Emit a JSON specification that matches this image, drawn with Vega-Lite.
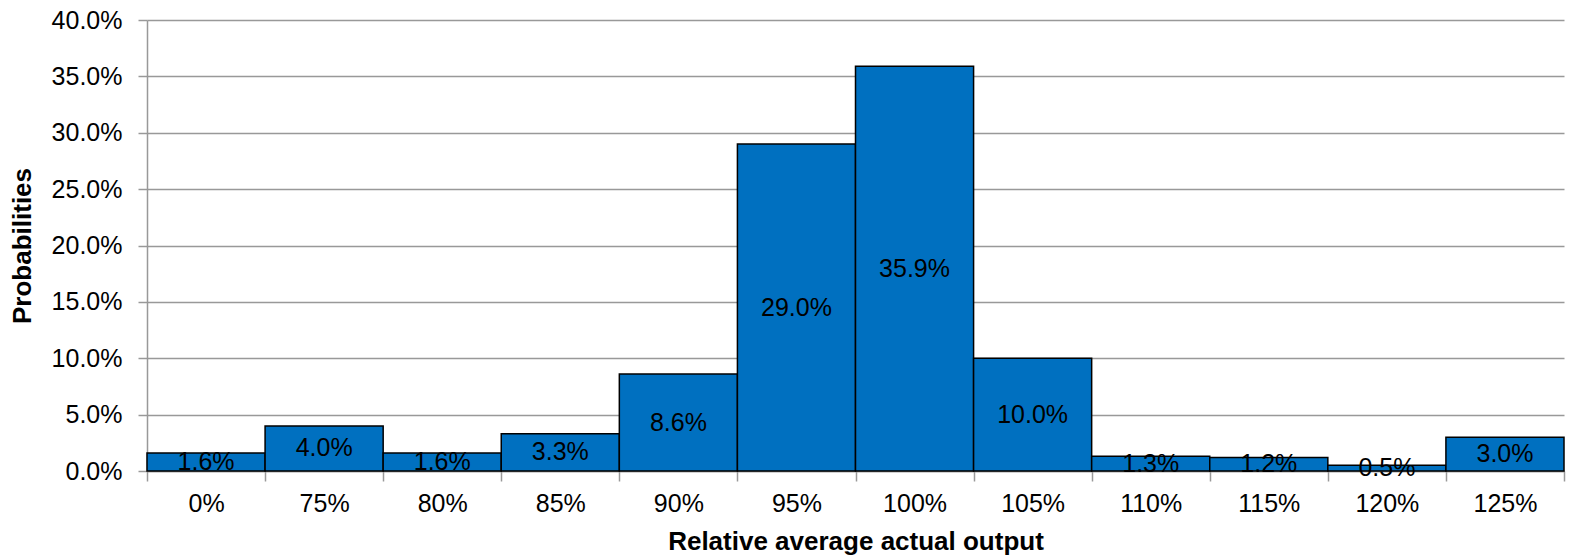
{
  "$schema": "https://vega.github.io/schema/vega-lite/v6.json",
  "width": 1417,
  "height": 451,
  "autosize": "none",
  "padding": {"left": 147, "top": 20, "right": 5, "bottom": 85},
  "background": "white",
  "data": {"values": [
    {"bin": "0%", "p": 0.016},
    {"bin": "75%", "p": 0.040},
    {"bin": "80%", "p": 0.016},
    {"bin": "85%", "p": 0.033},
    {"bin": "90%", "p": 0.086},
    {"bin": "95%", "p": 0.290},
    {"bin": "100%", "p": 0.359},
    {"bin": "105%", "p": 0.100},
    {"bin": "110%", "p": 0.013},
    {"bin": "115%", "p": 0.012},
    {"bin": "120%", "p": 0.005},
    {"bin": "125%", "p": 0.030}
  ]},
  "config": {
    "font": "Liberation Sans",
    "view": {"stroke": null},
    "axis": {
      "labelFont": "Liberation Sans",
      "titleFont": "Liberation Sans",
      "labelFontSize": 25,
      "labelColor": "black",
      "titleColor": "black",
      "titleFontSize": 26,
      "titleFontWeight": "bold",
      "domainColor": "#999999",
      "domainWidth": 1.5,
      "tickColor": "#999999",
      "tickWidth": 1.5,
      "gridColor": "#999999",
      "gridWidth": 1.5
    }
  },
  "encoding": {
    "x": {
      "field": "bin", "type": "nominal", "sort": null,
      "scale": {"paddingInner": 0, "paddingOuter": 0},
      "axis": {
        "title": "Relative average actual output",
        "labelAngle": 0,
        "tickBand": "extent",
        "tickSize": 10,
        "labelPadding": 10,
        "titlePadding": 12,
        "grid": false
      }
    }
  },
  "layer": [
    {
      "mark": {"type": "bar", "color": "#0070C0", "stroke": "black", "strokeWidth": 1.5},
      "encoding": {
        "y": {
          "field": "p", "type": "quantitative",
          "scale": {"domain": [0, 0.4]},
          "axis": {
            "title": "Probabilities",
            "format": ".1%",
            "values": [0, 0.05, 0.1, 0.15, 0.2, 0.25, 0.3, 0.35, 0.4],
            "tickSize": 9,
            "labelPadding": 16,
            "titlePadding": 16,
            "grid": true
          }
        }
      }
    },
    {
      "transform": [{"calculate": "datum.p / 2", "as": "mid"}],
      "mark": {"type": "text", "fontSize": 25, "baseline": "middle", "color": "black", "font": "Liberation Sans"},
      "encoding": {
        "y": {"field": "mid", "type": "quantitative"},
        "text": {"field": "p", "type": "quantitative", "format": ".1%"}
      }
    }
  ]
}
